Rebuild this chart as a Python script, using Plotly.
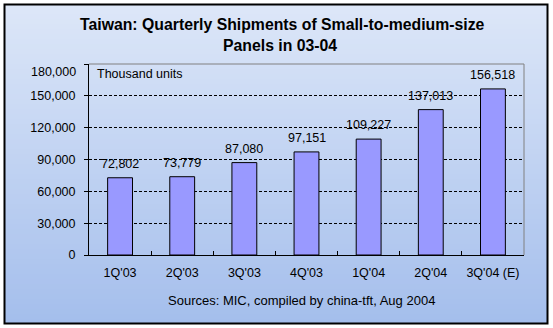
import plotly.graph_objects as go

categories = ["1Q'03", "2Q'03", "3Q'03", "4Q'03", "1Q'04", "2Q'04", "3Q'04 (E)"]
shipments = [72802, 73779, 87080, 97151, 109227, 137013, 156518]
y_ticks = [0, 30000, 60000, 90000, 120000, 150000, 180000]
y_ticktext = ["0", "30,000", "60,000", "90,000", "120,000", "150,000", ""]

W, H = 553, 328
L, R, T, B = 89, 524, 64, 255
FONT = "Arial, Liberation Sans, sans-serif"
FS = 12.5

def px_x(x):
    return (x - L) / (R - L)

def px_y(y):
    return (B - y) / (B - T)

def mix(c1, c2, t):
    return "rgb(%d,%d,%d)" % tuple(round(a + (b - a) * t) for a, b in zip(c1, c2))

top_c = (221, 231, 248)
bot_c = (164, 190, 236)

shapes = []
n = 64
y_top, y_bot = 4, 324
for i in range(n):
    ya = y_top + (y_bot - y_top) * i / n
    yb = y_top + (y_bot - y_top) * (i + 1) / n + 0.6
    shapes.append(dict(type="rect", xref="paper", yref="paper", layer="below",
                       x0=px_x(4), x1=px_x(548), y0=px_y(ya), y1=px_y(min(yb, y_bot)),
                       line=dict(width=0), fillcolor=mix(top_c, bot_c, (i + 0.5) / n)))
# outer border
shapes.append(dict(type="rect", xref="paper", yref="paper", layer="above",
                   x0=px_x(4.5), x1=px_x(547.5), y0=px_y(4.5), y1=px_y(323.5),
                   line=dict(color="black", width=2), fillcolor="rgba(0,0,0,0)"))
# top and right frame of plot area (gray)
shapes.append(dict(type="line", xref="paper", yref="paper", x0=0, x1=1, y0=1, y1=1,
                   line=dict(color="#808080", width=1)))
shapes.append(dict(type="line", xref="paper", yref="paper", x0=1, x1=1, y0=0, y1=1,
                   line=dict(color="#808080", width=1)))

fig = go.Figure()
fig.add_trace(go.Bar(x=categories, y=shipments, width=0.4,
                     marker=dict(color="#9999FF", line=dict(color="black", width=1)),
                     hoverinfo="skip"))

annotations = []
for c, v in zip(categories, shipments):
    annotations.append(dict(x=c, y=v, xref="x", yref="y", text=f"{v:,}", showarrow=False,
                            yanchor="middle", yshift=14, font=dict(family=FONT, size=FS, color="black")))
annotations.append(dict(x=px_x(78), y=180000, xref="paper", yref="y", text="180,000", showarrow=False,
                        xanchor="right", yanchor="middle", yshift=-8, xshift=0,
                        font=dict(family=FONT, size=FS, color="black")))
annotations.append(dict(x=px_x(282), y=px_y(24), xref="paper", yref="paper",
                        text="<b>Taiwan: Quarterly Shipments of Small-to-medium-size</b>", showarrow=False,
                        xanchor="center", yanchor="middle", font=dict(family=FONT, size=15.8, color="black")))
annotations.append(dict(x=px_x(280), y=px_y(45), xref="paper", yref="paper",
                        text="<b>Panels in 03-04</b>", showarrow=False,
                        xanchor="center", yanchor="middle", font=dict(family=FONT, size=15.8, color="black")))
annotations.append(dict(x=px_x(95), y=px_y(74), xref="paper", yref="paper",
                        text="Thousand units", showarrow=False,
                        xanchor="left", yanchor="middle", font=dict(family=FONT, size=FS, color="black")))
annotations.append(dict(x=px_x(301), y=px_y(300), xref="paper", yref="paper",
                        text="Sources: MIC, compiled by china-tft, Aug 2004", showarrow=False,
                        xanchor="center", yanchor="middle", font=dict(family=FONT, size=13, color="black")))

fig.update_layout(
    width=W, height=H,
    margin=dict(l=L, r=W - R, t=T, b=H - B, pad=0),
    paper_bgcolor="white", plot_bgcolor="rgba(0,0,0,0)",
    showlegend=False, shapes=shapes, annotations=annotations,
    font=dict(family=FONT, size=FS, color="black"),
    xaxis=dict(type="category", range=[-0.5, 6.5], showline=True, linecolor="black", linewidth=1,
               ticks="inside", tickson="boundaries", ticklen=4, tickcolor="black",
               showgrid=False, zeroline=False, tickfont=dict(family=FONT, size=FS, color="black"),
               ticklabelstandoff=6, fixedrange=True),
    yaxis=dict(range=[0, 180000], tickvals=y_ticks, ticktext=y_ticktext, showline=True,
               linecolor="black", linewidth=1, ticks="outside", ticklen=4, tickcolor="black",
               showgrid=True, gridcolor="black", griddash="3px,2px", gridwidth=1, zeroline=False,
               tickfont=dict(family=FONT, size=FS, color="black"), ticklabelstandoff=6, fixedrange=True),
)

fig.write_html("out.html")
